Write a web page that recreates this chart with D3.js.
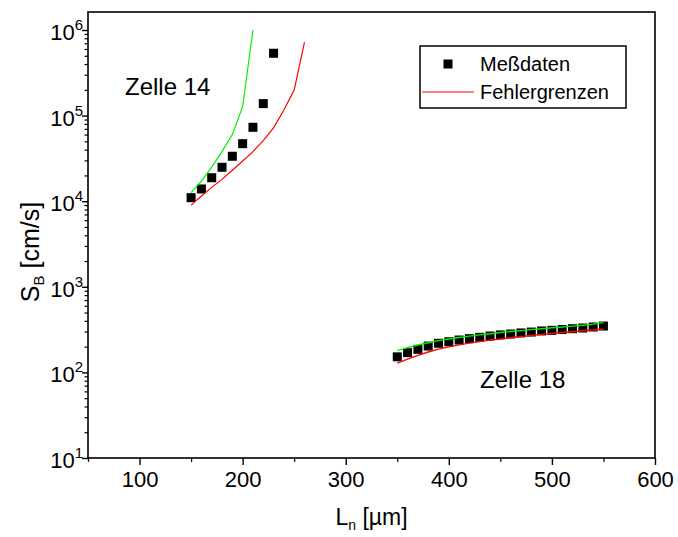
<!DOCTYPE html>
<html><head><meta charset="utf-8">
<script src="https://cdn.jsdelivr.net/npm/d3@7"></script>
<style>body{margin:0;background:#fff}text{font-family:"Liberation Sans",Arial,sans-serif;fill:#000}</style>
</head><body><svg id="c" width="678" height="537"></svg>
<script>
// Zelle 14
const x14 = [150,160,170,180,190,200,210,220,230];
const s14 = [1.1e4,1.39e4,1.88e4,2.49e4,3.35e4,4.7e4,7.3e4,1.38e5,5.35e5];
const gx14 = [150,160,170,180,190,200,210];
const g14 = [1.26e4,1.72e4,2.5e4,3.8e4,6.0e4,1.27e5,1.0e6];
const rx14 = [150,160,170,180,190,200,210,220,230,240,250,260];
const r14 = [9.0e3,1.15e4,1.45e4,1.8e4,2.3e4,2.95e4,3.8e4,5.1e4,7.2e4,1.16e5,1.99e5,7.2e5];
// Zelle 18
const x18 = [350,360,370,380,390,400,410,420,430,440,450,460,470,480,490,500,510,520,530,540,550];
const s18 = [152,170,186,203,219,228,239,248,257,266,274,281,289,296,305,310,317,324,330,339,348];
const g18 = [180,195,209,222,235,246,256,265,274,283,292,300,308,316,324,332,339,347,355,366,381];
const r18 = [128,143,158,173,187,199,210,220,229,238,246,254,262,270,278,285,292,299,306,313,319];
const xTicks = [100,200,300,400,500,600];
const xMinor = [50,150,250,350,450,550];
const yExp = [1,2,3,4,5,6];

const svg = d3.select("#c");
const L=88,R=655,T=12,B=458;
const x = d3.scaleLinear().domain([50,600]).range([L,R]);
const y = d3.scaleLog().domain([10, Math.pow(10,1+5*(B-T)/428)]).range([B,T]);

// frame
svg.append("rect").attr("x",L).attr("y",T).attr("width",R-L).attr("height",B-T)
  .attr("fill","none").attr("stroke","#000").attr("stroke-width",1.6);

// x axis
const xa = svg.append("g").attr("transform",`translate(0,${B})`)
  .call(d3.axisBottom(x).tickValues(xTicks).tickSize(7).tickSizeOuter(0).tickPadding(6).tickFormat(d3.format("d")));
xa.select(".domain").remove();
xa.selectAll("line").attr("stroke-width",1.4);
xa.selectAll("text").attr("font-size",22).attr("font-family","Liberation Sans");
const xm = svg.append("g").attr("transform",`translate(0,${B})`)
  .call(d3.axisBottom(x).tickValues(xMinor).tickSize(4).tickFormat(""));
xm.select(".domain").remove();
xm.selectAll("line").attr("stroke-width",1.2);

// y axis
const majors = yExp.map(e=>Math.pow(10,e));
const minors = [];
for (let e=1;e<6;e++) for (let k=2;k<=9;k++) minors.push(k*Math.pow(10,e));
const ya = svg.append("g").attr("transform",`translate(${L},0)`)
  .call(d3.axisLeft(y).tickValues(majors).tickSize(6).tickFormat(""));
ya.select(".domain").remove();
ya.selectAll("line").attr("stroke-width",1.4);
const ym = svg.append("g").attr("transform",`translate(${L},0)`)
  .call(d3.axisLeft(y).tickValues(minors).tickSize(3.5).tickFormat(""));
ym.select(".domain").remove();
ym.selectAll("line").attr("stroke-width",1.2);
yExp.forEach(e=>{
  const t = svg.append("text").attr("x",83).attr("y",y(Math.pow(10,e))+10)
    .attr("text-anchor","end").attr("font-size",22);
  t.append("tspan").text("10");
  t.append("tspan").attr("font-size",15).attr("dy",-10).text(e);
});

// titles
const xt = svg.append("text").attr("x",(L+R)/2).attr("y",525).attr("text-anchor","middle").attr("font-size",23);
xt.append("tspan").text("L");
xt.append("tspan").attr("font-size",14).attr("dy",5).text("n");
xt.append("tspan").attr("dy",-5).text(" [µm]");
const yt = svg.append("text").attr("transform",`translate(39,252) rotate(-90)`).attr("text-anchor","middle").attr("font-size",25);
yt.append("tspan").text("S");
yt.append("tspan").attr("font-size",15).attr("dy",5).text("B");
yt.append("tspan").attr("dy",-5).text(" [cm/s]");

// squares
const plot = svg.append("g");
const sq=9;
plot.selectAll("rect.s14").data(d3.zip(x14,s14)).join("rect")
  .attr("x",d=>x(d[0])-sq/2).attr("y",d=>y(d[1])-sq/2).attr("width",sq).attr("height",sq).attr("fill","#000");
plot.selectAll("rect.s18").data(d3.zip(x18,s18)).join("rect")
  .attr("x",d=>x(d[0])-sq/2).attr("y",d=>y(d[1])-sq/2).attr("width",sq).attr("height",sq).attr("fill","#000");

// lines
const line = d3.line().x(d=>x(d[0])).y(d=>y(d[1]));
svg.append("path").attr("d",line(d3.zip(gx14,g14))).attr("fill","none").attr("stroke","#00ee00").attr("stroke-width",1.2);
svg.append("path").attr("d",line(d3.zip(rx14,r14))).attr("fill","none").attr("stroke","#ff0000").attr("stroke-width",1.2);
svg.append("path").attr("d",line(d3.zip(x18,g18))).attr("fill","none").attr("stroke","#00ee00").attr("stroke-width",1.4);
svg.append("path").attr("d",line(d3.zip(x18,r18))).attr("fill","none").attr("stroke","#ff0000").attr("stroke-width",1.4);

// annotations
svg.append("text").attr("x",125).attr("y",95).attr("font-size",24).text("Zelle 14");
svg.append("text").attr("x",480).attr("y",388).attr("font-size",24).text("Zelle 18");

// legend
const lg = svg.append("g");
lg.append("rect").attr("x",420).attr("y",46).attr("width",206).attr("height",62)
  .attr("fill","#fff").attr("stroke","#000").attr("stroke-width",1.5);
lg.append("rect").attr("x",448-4.5).attr("y",64-4.5).attr("width",9).attr("height",9).attr("fill","#000");
lg.append("line").attr("x1",422).attr("x2",474).attr("y1",92).attr("y2",92).attr("stroke","#ff0000").attr("stroke-width",1.2);
lg.append("text").attr("x",480).attr("y",71).attr("font-size",20).text("Meßdaten");
lg.append("text").attr("x",480).attr("y",99).attr("font-size",20).text("Fehlergrenzen");
</script></body></html>
